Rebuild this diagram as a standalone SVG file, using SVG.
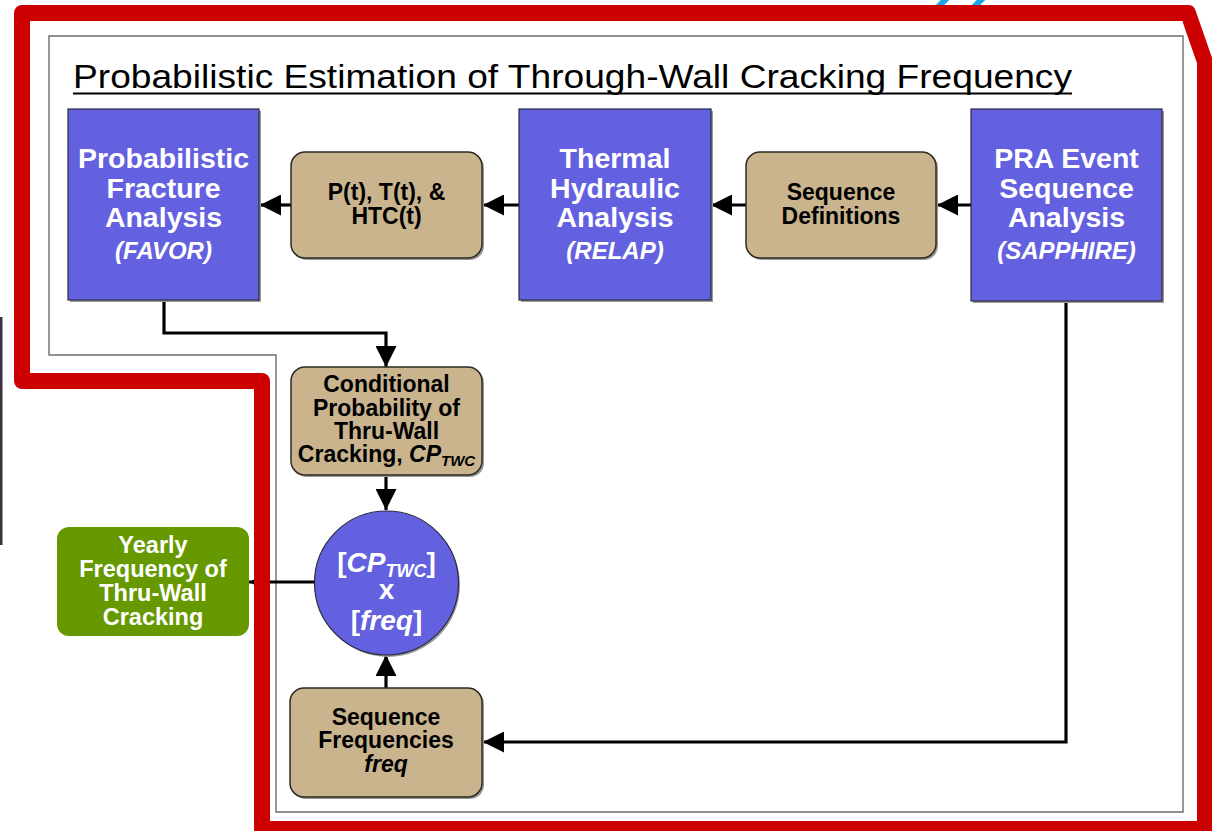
<svg xmlns="http://www.w3.org/2000/svg" width="1212" height="831" viewBox="0 0 1212 831">
<style>
  text { font-family: "Liberation Sans", Arial, sans-serif; }
  .blue { fill: #6461e0; stroke: #2a2a40; stroke-width: 1.2; }
  .tan { fill: #c9b48e; stroke: #2e2a22; stroke-width: 1.5; }
  .shadow { fill: #9a9a9a; stroke: none; }
  .wt { fill: #ffffff; font-weight: bold; font-size: 28.5px; text-anchor: middle; }
  .wi { fill: #ffffff; font-weight: bold; font-style: italic; font-size: 24px; text-anchor: middle; }
  .bt { fill: #000000; font-weight: bold; font-size: 23px; text-anchor: middle; }
  .gt { fill: #ffffff; font-weight: bold; font-size: 23.5px; text-anchor: middle; }
  .ct { fill: #ffffff; font-weight: bold; font-size: 28px; text-anchor: middle; }
  .conn { fill: none; stroke: #000000; stroke-width: 3.2; stroke-linejoin: miter; }
</style>
<defs>
  <marker id="ah" viewBox="0 0 10 10" refX="10" refY="5" markerUnits="userSpaceOnUse" markerWidth="22" markerHeight="21" orient="auto">
    <path d="M0,0 L10,5 L0,10 Z" fill="#000"/>
  </marker>
  <marker id="ahs" viewBox="0 0 10 10" refX="10" refY="5" markerUnits="userSpaceOnUse" markerWidth="8" markerHeight="8" orient="auto">
    <path d="M0,0 L10,5 L0,10 Z" fill="#000"/>
  </marker>
</defs>
<rect x="0" y="0" width="1212" height="831" fill="#ffffff"/>

<!-- background fragments -->
<g id="fragments">
  <line x1="937" y1="8" x2="948" y2="-3" stroke="#19a6e6" stroke-width="6"/>
  <line x1="973" y1="8" x2="984" y2="-3" stroke="#19a6e6" stroke-width="6"/>
  <rect x="0" y="317" width="2.5" height="228" fill="#3d3140"/>
</g>

<!-- inner frame -->
<path id="frame" d="M49,36 L1183,36 L1183,812 L276,812 L276,355 L49,355 Z" fill="none" stroke="#6e6e6e" stroke-width="1.4"/>

<!-- title -->
<g id="title">
  <text x="73" y="88" font-size="34" fill="#000" textLength="999" lengthAdjust="spacingAndGlyphs">Probabilistic Estimation of Through-Wall Cracking Frequency</text>
  <line x1="73" y1="93.5" x2="1072" y2="93.5" stroke="#000" stroke-width="2.2"/>
</g>

<!-- connectors -->
<g id="connectors">
  <path class="conn" d="M291,205 L260,205" marker-end="url(#ah)"/>
  <path class="conn" d="M519,205 L483,205" marker-end="url(#ah)"/>
  <path class="conn" d="M746,205 L711,205" marker-end="url(#ah)"/>
  <path class="conn" d="M971,205 L937,205" marker-end="url(#ah)"/>
  <path class="conn" d="M164,300 L164,333 L386,333 L386,367" marker-end="url(#ah)"/>
  <path class="conn" d="M386,475 L386,510" marker-end="url(#ah)"/>
  <path class="conn" d="M386,688 L386,655" marker-end="url(#ah)"/>
  <path class="conn" d="M1066,301 L1066,742 L483,742" marker-end="url(#ah)"/>
  <path class="conn" d="M315,582 L249,582" marker-end="url(#ahs)"/>
</g>

<!-- nodes -->
<g id="node-pfa">
  <rect class="shadow" x="70" y="111" width="191" height="191"/>
  <rect class="blue" x="68" y="109" width="191" height="191"/>
  <text class="wt" x="163.5" y="168">Probabilistic</text>
  <text class="wt" x="163.5" y="197.5">Fracture</text>
  <text class="wt" x="163.5" y="227">Analysis</text>
  <text class="wi" x="163.5" y="259">(FAVOR)</text>
</g>

<g id="node-pth">
  <rect class="shadow" x="293" y="154" width="191" height="106" rx="14"/>
  <rect class="tan" x="291" y="152" width="191" height="106" rx="14"/>
  <text class="bt" x="386.5" y="200">P(t), T(t), &amp;</text>
  <text class="bt" x="386.5" y="224">HTC(t)</text>
</g>

<g id="node-tha">
  <rect class="shadow" x="521" y="111" width="192" height="191"/>
  <rect class="blue" x="519" y="109" width="192" height="191"/>
  <text class="wt" x="615" y="168">Thermal</text>
  <text class="wt" x="615" y="197.5">Hydraulic</text>
  <text class="wt" x="615" y="227">Analysis</text>
  <text class="wi" x="615" y="259">(RELAP)</text>
</g>

<g id="node-seqdef">
  <rect class="shadow" x="748" y="154" width="190" height="106" rx="14"/>
  <rect class="tan" x="746" y="152" width="190" height="106" rx="14"/>
  <text class="bt" x="841" y="200">Sequence</text>
  <text class="bt" x="841" y="224">Definitions</text>
</g>

<g id="node-pra">
  <rect class="shadow" x="973" y="111" width="191" height="192"/>
  <rect class="blue" x="971" y="109" width="191" height="192"/>
  <text class="wt" x="1066.5" y="168">PRA Event</text>
  <text class="wt" x="1066.5" y="197.5">Sequence</text>
  <text class="wt" x="1066.5" y="227">Analysis</text>
  <text class="wi" x="1066.5" y="259">(SAPPHIRE)</text>
</g>

<g id="node-cptwc">
  <rect class="shadow" x="293" y="369" width="191" height="108" rx="14"/>
  <rect class="tan" x="291" y="367" width="191" height="108" rx="14"/>
  <text class="bt" x="386.5" y="392">Conditional</text>
  <text class="bt" x="386.5" y="415.5">Probability of</text>
  <text class="bt" x="386.5" y="439">Thru-Wall</text>
  <text class="bt" x="386.5" y="462">Cracking, <tspan font-style="italic">CP</tspan><tspan font-style="italic" font-size="15" dy="4">TWC</tspan></text>
</g>

<g id="node-product">
  <circle cx="388" cy="585" r="72" fill="#9a9a9a"/>
  <circle cx="386.5" cy="583" r="72" fill="#6461e0" stroke="#2a2a40" stroke-width="1.2"/>
  <text class="ct" x="386.5" y="572">[<tspan font-style="italic">CP</tspan><tspan font-style="italic" font-size="18" dy="5">TWC</tspan><tspan dy="-5">]</tspan></text>
  <text class="ct" x="386.5" y="599">x</text>
  <text class="ct" x="386.5" y="630">[<tspan font-style="italic">freq</tspan>]</text>
</g>

<g id="node-seqfreq">
  <rect class="shadow" x="292" y="690" width="192" height="109" rx="14"/>
  <rect class="tan" x="290" y="688" width="192" height="109" rx="14"/>
  <text class="bt" x="386" y="725">Sequence</text>
  <text class="bt" x="386" y="748">Frequencies</text>
  <text class="bt" x="386" y="772" font-style="italic">freq</text>
</g>

<g id="node-yearly">
  <rect x="57" y="527" width="192" height="109" rx="12" fill="#669900"/>
  <text class="gt" x="153" y="553">Yearly</text>
  <text class="gt" x="153" y="577">Frequency of</text>
  <text class="gt" x="153" y="601">Thru-Wall</text>
  <text class="gt" x="153" y="625">Cracking</text>
</g>

<!-- red outline -->
<path id="red-outline" d="M262,840 L262,381 L22,381 L22,13 L1188,13 L1205,62 L1205,840" fill="none" stroke="#cc0000" stroke-width="16" stroke-linejoin="round"/>
<line x1="262" y1="829" x2="1205" y2="829" stroke="#cc0000" stroke-width="16"/>
</svg>
